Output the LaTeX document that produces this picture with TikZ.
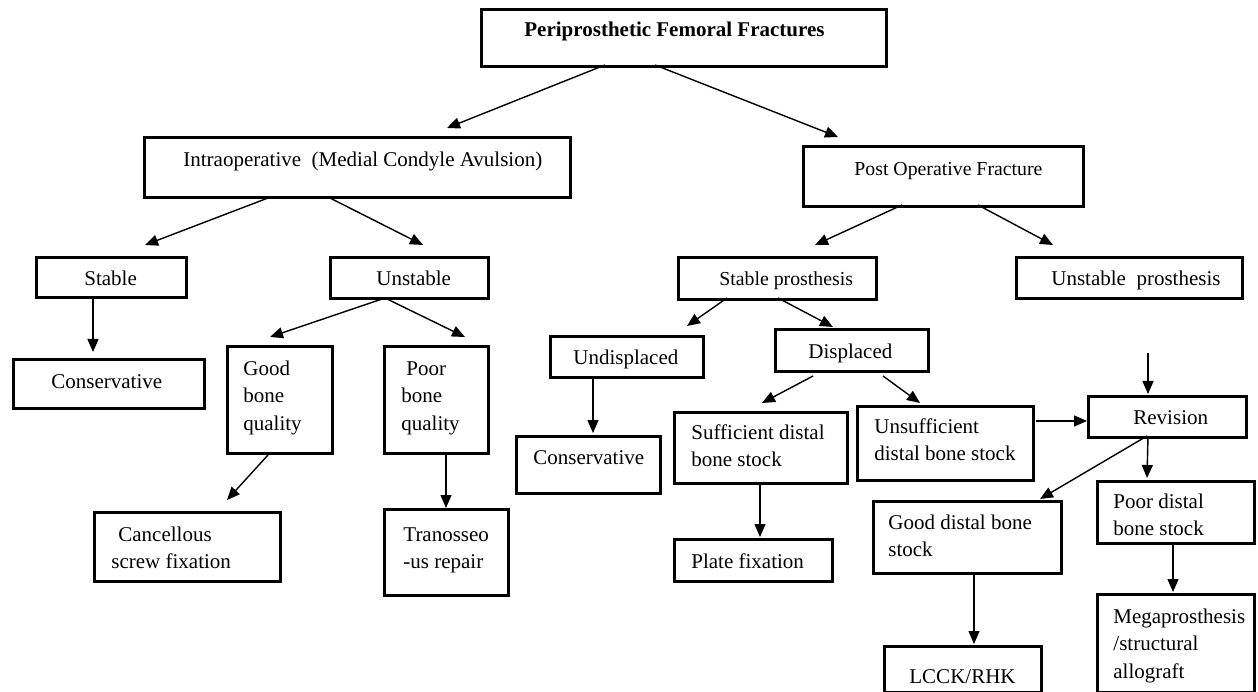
\documentclass[tikz,border=0pt]{standalone}
\usepackage{fontspec}
\setmainfont{Liberation Serif}
\usetikzlibrary{arrows.meta,calc}
\newcommand\tb[5]{\parbox[c][#2pt][t]{#1pt}{\vspace*{#3pt}\leftskip=#4pt\relax\rightskip=0pt plus 1fil\relax\strut#5}}
\hbadness=10000 \hfuzz=80pt
\begin{document}
\begin{tikzpicture}[x=1pt,y=-1pt,
  box/.style={draw, line width=2.8pt, inner sep=0pt, anchor=north west, font=\fontsize{21}{27.5}\selectfont},
  smallbox/.style={box, font=\fontsize{19.8}{27.5}\selectfont},
  arr/.style={line width=1.4pt, -{Triangle[length=13pt,width=11pt]}}]
\useasboundingbox (0,0) rectangle (1258,692);
% boxes
\node[box] (title) at (480,8) {\tb{405}{57}{7.75}{43}{\textbf{Periprosthetic Femoral Fractures}}};
\node[box] (intra) at (143,136) {\tb{426}{60}{9.75}{39}{Intraoperative\ \ (Medial Condyle Avulsion)}};
\node[smallbox] (post) at (802,145) {\tb{280}{60}{9.75}{51}{Post Operative Fracture}};
\node[box] (stable) at (35,256) {\tb{150}{40}{8.75}{48}{Stable}};
\node[box] (unstable) at (329,256) {\tb{158}{41}{8.75}{46}{Unstable}};
\node[smallbox] (stablep) at (677,256) {\tb{198}{42}{8.75}{41}{Stable prosthesis}};
\node[box] (unstablep) at (1015,256) {\tb{226}{41}{8.75}{35}{Unstable\ \ prosthesis}};
\node[box] (consL) at (12,358) {\tb{191}{49}{9.75}{38}{Conservative}};
\node[box] (goodbq) at (226,345) {\tb{105}{107}{9.75}{16}{Good\\bone\\quality}};
\node[box] (poorbq) at (383,345) {\tb{104}{107}{9.75}{17}{\hspace*{5pt}Poor\\bone\\quality}};
\node[box] (cancel) at (93,511) {\tb{186}{69}{9.75}{17}{\hspace*{7pt}Cancellous\\screw fixation}};
\node[box] (trans) at (383,508) {\tb{124}{86}{12.75}{19}{Tranosseo\\-us repair}};
\node[box] (undisp) at (549,335) {\tb{153}{41}{8.75}{23}{Undisplaced}};
\node[box] (disp) at (774,328) {\tb{153}{42}{9.75}{33}{Displaced}};
\node[box] (consM) at (515,435) {\tb{144}{57}{8.75}{17}{Conservative}};
\node[box] (suff) at (673,411) {\tb{173}{71}{7.75}{17}{Sufficient distal\\bone stock}};
\node[box] (plate) at (673,538) {\tb{158}{42}{9.75}{17}{Plate fixation}};
\node[box] (unsuff) at (856,405) {\tb{176}{74}{7.75}{17}{Unsufficient\\distal bone stock}};
\node[box] (rev) at (1087,395) {\tb{158}{41}{8.75}{45}{Revision}};
\node[box] (goodd) at (872,500) {\tb{188}{72}{8.75}{15}{Good distal bone\\stock}};
\node[box] (poord) at (1096,480) {\tb{157}{62}{7.75}{16}{Poor distal\\bone stock}};
\node[box] (lcck) at (883,645) {\tb{157}{46}{17.75}{25}{LCCK/RHK}};
\node[box] (mega) at (1096,593) {\tb{157}{98}{9.75}{16}{Megaprosthesis\\/structural\\allograft}};
\coordinate (revin) at (1148,353);
% connectors
\draw[arr] ($(title.north west)+(125,57)$) -- ($(intra.north west)+(304,-8)$);
\draw[arr] ($(title.north west)+(175,57)$) -- ($(post.north west)+(36,-8)$);
\draw[arr] ($(intra.north west)+(125,62)$) -- ($(stable.north west)+(110,-11)$);
\draw[arr] ($(intra.north west)+(187,62)$) -- ($(unstable.north west)+(94,-11)$);
\draw[arr] ($(stable.north west)+(58,40)$) -- ($(consL.north west)+(81,-6)$);
\draw[arr] ($(unstable.north west)+(56,42)$) -- ($(goodbq.north west)+(44,-8)$);
\draw[arr] ($(unstable.north west)+(56,42)$) -- ($(poorbq.north west)+(82,-8)$);
\draw[arr] ($(goodbq.north west)+(42,110)$) -- ($(cancel.north west)+(134,-11)$);
\draw[arr] ($(poorbq.north west)+(63,110)$) -- ($(trans.north west)+(63,0)$);
\draw[arr] ($(post.north west)+(100,60)$) -- ($(stablep.north west)+(138,-11)$);
\draw[arr] ($(post.north west)+(176,60)$) -- ($(unstablep.north west)+(38,-11)$);
\draw[arr] ($(stablep.north west)+(50,42)$) -- ($(undisp.north west)+(138,-9)$);
\draw[arr] ($(stablep.north west)+(101,42)$) -- ($(disp.north west)+(59,-1)$);
\draw[arr] ($(undisp.north west)+(44,41)$) -- ($(consM.north west)+(78,-2)$);
\draw[arr] ($(disp.north west)+(39,48)$) -- ($(suff.north west)+(89,-8)$);
\draw[arr] ($(disp.north west)+(109,48)$) -- ($(unsuff.north west)+(64,-2)$);
\draw[arr] ($(suff.north west)+(87,71)$) -- ($(plate.north west)+(87,-1)$);
\draw[arr] ($(unsuff.north west)+(180,16)$) -- ($(rev.north west)+(0,26)$);
\draw[arr] (revin) -- ($(rev.north west)+(61,-1)$);
\draw[arr] ($(rev.north west)+(61,41)$) -- ($(poord.north west)+(51,-2)$);
\draw[arr] ($(rev.north west)+(60,41)$) -- ($(goodd.north west)+(168,-1)$);
\draw[arr] ($(goodd.north west)+(102,72)$) -- ($(lcck.north west)+(91,-1)$);
\draw[arr] ($(poord.north west)+(77,62)$) -- ($(mega.north west)+(77,-1)$);
\end{tikzpicture}
\end{document}
